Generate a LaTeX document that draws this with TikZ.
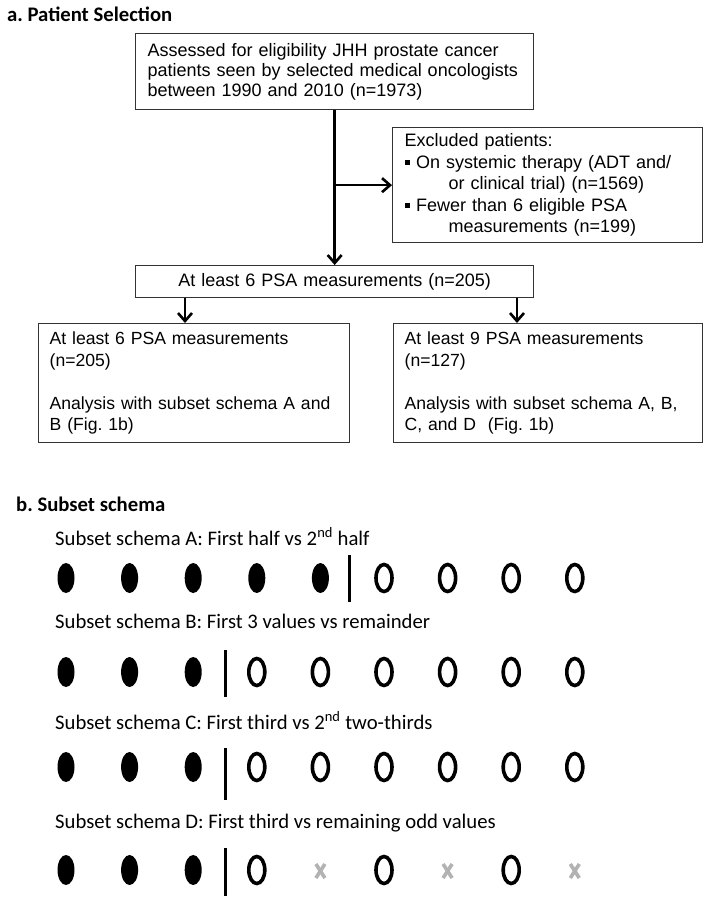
\documentclass[tikz,border=0pt]{standalone}
\usepackage{fontspec}
\setmainfont{Liberation Sans}
\newfontfamily\califont{Carlito}
\usetikzlibrary{arrows.meta}
\frenchspacing
\begin{document}
\begin{tikzpicture}[x=1pt,y=-1pt,
  box/.style={draw=black!80, line width=1.3pt, anchor=north west, inner xsep=12pt, inner ysep=0pt, align=left, font=\fontsize{18}{20.3}\selectfont},
  boxb/.style={box, font=\fontsize{18}{21.5}\selectfont},
  boxc/.style={box, inner xsep=11pt, font=\fontsize{17.6}{21.5}\selectfont},
  arr/.style={line width=2.6pt, -{Straight Barb[length=8pt,width=14pt,line width=2.6pt]}},
  head/.style={anchor=base west, inner sep=0pt, font=\califont\bfseries\fontsize{20.7}{25}\selectfont},
  sub/.style={anchor=base west, inner sep=0pt, font=\califont\fontsize{20.7}{25}\selectfont},
  divider/.style={line width=3pt},
  openell/.style={line width=3.6pt},
  xmark/.style={line width=3.6pt, draw={rgb,255:red,178;green,178;blue,178}}
]
\fill[white] (0,0) rectangle (709,903);
\useasboundingbox (0,0) rectangle (709,903);

% ---------- a. Patient selection ----------
\node[head] (ta) at (7,21) {a. Patient Selection};

\node[box, text width=374pt, minimum height=76pt] (b1) at (135,33)
 {Assessed for eligibility JHH prostate cancer\\
  patients seen by selected medical oncologists\\
  between 1990 and 2010 (n=1973)};

\node[boxb, text width=286pt, minimum height=115pt] (ex) at (392,127)
 {Excluded patients:\\
  \rule[3pt]{5.5pt}{5.5pt}\hspace{6pt}On systemic therapy (ADT and/\\
  \hspace{44pt}or clinical trial) (n=1569)\\
  \rule[3pt]{5.5pt}{5.5pt}\hspace{6pt}Fewer than 6 eligible PSA\\
  \hspace{44pt}measurements (n=199)};

\node[box, align=center, text width=374pt, minimum height=32pt] (b2) at (135,265)
 {\raisebox{-2pt}{At least 6 PSA measurements (n=205)}};

\node[boxc, text width=289pt, minimum height=119pt] (bl) at (38,323)
 {At least 6 PSA measurements\\
  (n=205)\\[21.5pt]
  Analysis with subset schema A and\\
  B (Fig. 1b)};

\node[boxc, text width=287pt, minimum height=119pt] (br) at (393,323)
 {At least 9 PSA measurements\\
  (n=127)\\[21.5pt]
  Analysis with subset schema A, B,\\
  C, and D~~(Fig. 1b)};

\coordinate (xL) at (185,0);
\coordinate (xR) at (517,0);
\draw[arr] (b1.south) -- (b2.north);
\draw[arr] (b1.south |- ex.west) -- (ex.west);
\draw[arr] (b2.south -| xL) -- (bl.north -| xL);
\draw[arr] (b2.south -| xR) -- (br.north -| xR);

% ---------- b. Subset schema ----------
\node[head] (tb) at (16,511) {b. Subset schema};

\node[sub] (sa) at (55,545) {Subset schema A: First half vs 2\textsuperscript{nd} half};
\node[sub] (sb) at (55,628) {Subset schema B: First 3 values vs remainder};
\node[sub] (sc) at (55,729) {Subset schema C: First third vs 2\textsuperscript{nd} two-thirds};
\node[sub] (sd) at (55,828) {Subset schema D: First third vs remaining odd values};

% row A
\foreach \i in {0,...,4} \fill ({66+63.6*\i},578) ellipse [x radius=8.5pt, y radius=15pt];
\foreach \i in {5,...,8} \draw[openell] ({66+63.6*\i},578) ellipse [x radius=8pt, y radius=13.5pt];
\draw[divider] (349,555) -- (349,602);

% row B
\foreach \i in {0,...,2} \fill ({66+63.6*\i},672) ellipse [x radius=8.5pt, y radius=15pt];
\foreach \i in {3,...,8} \draw[openell] ({66+63.6*\i},672) ellipse [x radius=8pt, y radius=13.5pt];
\draw[divider] (225,650) -- (225,697);

% row C
\foreach \i in {0,...,2} \fill ({66+63.6*\i},767) ellipse [x radius=8.5pt, y radius=15pt];
\foreach \i in {3,...,8} \draw[openell] ({66+63.6*\i},767) ellipse [x radius=8pt, y radius=13.5pt];
\draw[divider] (225,748) -- (225,800);

% row D
\foreach \i in {0,...,2} \fill ({66+63.6*\i},870) ellipse [x radius=8.5pt, y radius=15pt];
\foreach \i in {3,5,7} \draw[openell] ({66+63.6*\i},870) ellipse [x radius=8pt, y radius=13.5pt];
\foreach \i in {4,6,8} {
  \draw[xmark] ({66+63.6*\i-4.5},864) -- ({66+63.6*\i+4.5},878);
  \draw[xmark] ({66+63.6*\i+4.5},864) -- ({66+63.6*\i-4.5},878);
}
\draw[divider] (225,848) -- (225,896);
\end{tikzpicture}
\end{document}
